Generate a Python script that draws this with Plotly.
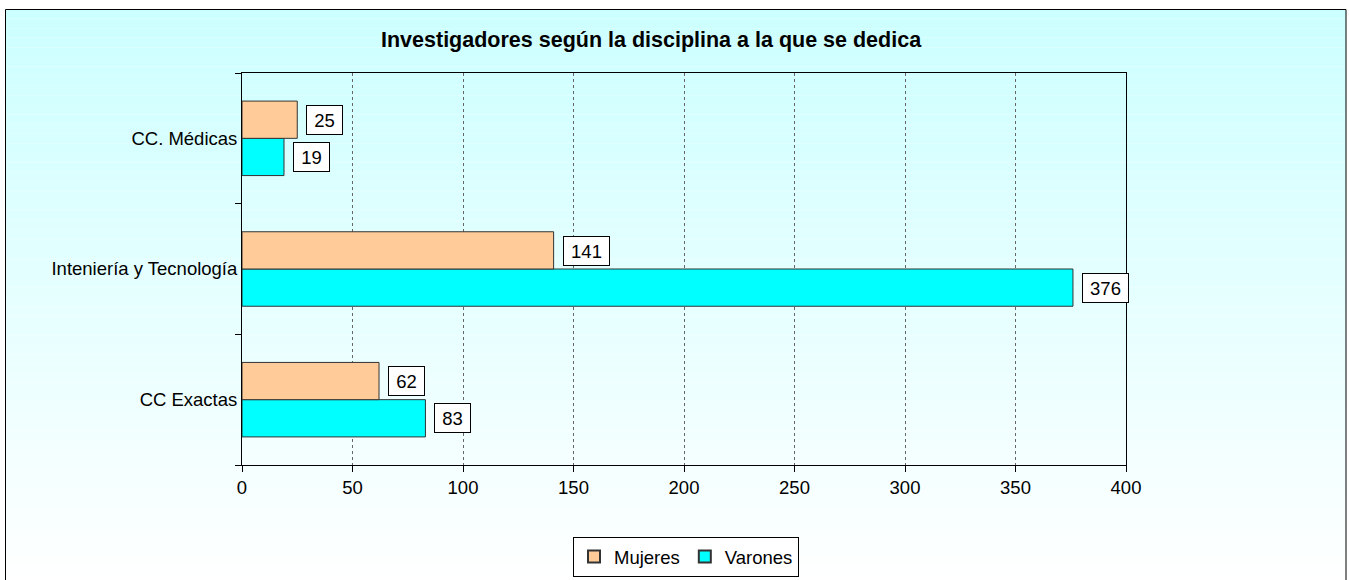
import plotly.graph_objects as go

categories = ["CC Exactas", "Intenieria y Tecnología".replace("Intenieria", "Inteniería"), "CC. Médicas"]
mujeres = [62, 141, 25]
varones = [83, 376, 19]
x_ticks = [0, 50, 100, 150, 200, 250, 300, 350, 400]

W, H = 1349, 580
L, R, T, B = 242, 1126, 73, 465
pw, ph = R - L, B - T

def fx(px):
    return (px - L) / pw

def fy(py):
    return (B - py) / ph

FONT = "Arial, Liberation Sans, sans-serif"
FS = 18.5

fig = go.Figure()
fig.add_trace(go.Bar(
    y=categories, x=varones, orientation="h", name="Varones",
    marker=dict(color="#00FFFF", line=dict(color="#333333", width=1)),
))
fig.add_trace(go.Bar(
    y=categories, x=mujeres, orientation="h", name="Mujeres",
    marker=dict(color="#FFCC99", line=dict(color="#333333", width=1)),
))

shapes = []
# gradient background strips
n = 60
top, bot = 9, 585
for i in range(n):
    y0 = top + (bot - top) * i / n
    y1 = top + (bot - top) * (i + 1) / n
    t = (i + 0.5) / n
    r = int(round(204 + (255 - 204) * t))
    shapes.append(dict(type="rect", xref="paper", yref="paper",
                       x0=fx(5), x1=fx(1346), y0=fy(y1), y1=fy(y0),
                       fillcolor=f"rgb({r},255,255)", line=dict(width=0), layer="below"))
# outer border
shapes.append(dict(type="rect", xref="paper", yref="paper",
                   x0=fx(5.5), x1=fx(1346), y0=fy(590), y1=fy(9.5),
                   fillcolor="rgba(0,0,0,0)", line=dict(color="#000000", width=1), layer="below"))

annotations = []
annotations.append(dict(text="<b>Investigadores según la disciplina a la que se dedica</b>",
                        xref="paper", yref="paper", x=fx(651), y=fy(40),
                        xanchor="center", yanchor="middle", showarrow=False,
                        font=dict(family=FONT, size=21.5, color="#000000")))

def add_labels(vals, shift):
    for c, v in zip(categories, vals):
        s = str(v)
        annotations.append(dict(
            text=s, x=v, y=c, xref="x", yref="y", xanchor="left", yanchor="middle",
            xshift=9, yshift=shift, showarrow=False,
            width=len(s) * 10 + 7, height=20, align="center", valign="middle",
            bgcolor="#FFFFFF", bordercolor="#000000", borderwidth=1, borderpad=4,
            font=dict(family=FONT, size=FS, color="#000000")))

add_labels(mujeres, 18.5)
add_labels(varones, -18.5)

fig.update_layout(
    width=W, height=H, autosize=False,
    margin=dict(l=L, r=W - R, t=T, b=H - B, pad=0, autoexpand=False),
    paper_bgcolor="#FFFFFF", plot_bgcolor="rgba(0,0,0,0)",
    barmode="group", bargap=0.43, bargroupgap=0,
    showlegend=True,
    legend=dict(orientation="h", traceorder="reversed",
                xref="container", yref="container",
                x=686 / W, y=1 - 557 / H, xanchor="center", yanchor="middle",
                bgcolor="#FFFFFF", bordercolor="#000000", borderwidth=1,
                font=dict(family=FONT, size=FS, color="#000000"),
                itemwidth=30, itemsizing="constant", tracegroupgap=0),
    shapes=shapes, annotations=annotations,
    font=dict(family=FONT, size=FS, color="#000000"),
)
fig.update_xaxes(range=[0, 400], tickvals=x_ticks, ticktext=[str(v) for v in x_ticks],
                 showgrid=True, gridcolor="#666666", griddash="dot", gridwidth=1,
                 showline=True, linecolor="#000000", linewidth=1, mirror=True,
                 ticks="outside", ticklen=6, tickcolor="#000000",
                 zeroline=False, tickfont=dict(family=FONT, size=FS, color="#000000"))
fig.update_yaxes(categoryorder="array", categoryarray=categories,
                 showgrid=False, showline=True, linecolor="#000000", linewidth=1, mirror=True,
                 ticks="outside", ticklen=6, tickcolor="#000000", tickson="boundaries",
                 tickfont=dict(family=FONT, size=FS, color="#000000"))

fig.write_html("out.html", config={"displayModeBar": False},
               post_script="document.body.style.margin='0';document.body.style.overflow='hidden';")
